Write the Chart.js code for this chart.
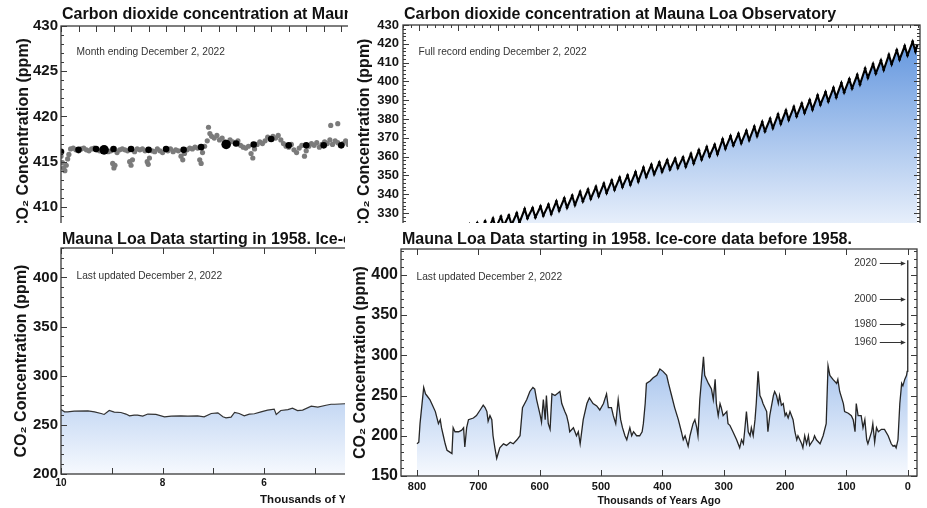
<!DOCTYPE html>
<html><head><meta charset="utf-8">
<script src="https://cdn.jsdelivr.net/npm/chart.js@4.4.1/dist/chart.umd.min.js"></script>
<style>
html,body{margin:0;padding:0;background:#fff;width:927px;height:508px;overflow:hidden;}
.panel{position:absolute;overflow:hidden;background:#fff;}
canvas{display:block;}
</style></head><body>
<div class="panel" style="left:0;top:0;width:348px;height:223px"><canvas id="cTL" width="615" height="275" style="width:615px;height:275px"></canvas></div>
<div class="panel" style="left:348px;top:0;width:579px;height:223px"><canvas id="cTR" width="579" height="277" style="width:579px;height:277px"></canvas></div>
<div class="panel" style="left:0;top:225px;width:345px;height:283px"><canvas id="cBL" width="600" height="283" style="width:600px;height:283px"></canvas></div>
<div class="panel" style="left:345px;top:225px;width:582px;height:283px"><canvas id="cBR" width="582" height="283" style="width:582px;height:283px"></canvas></div>
<script>
// ---------------- DATA ----------------
// Top-left: one month of Mauna Loa readings (day index, ppm)
const dailyDay = [0,1,2,3,4,5,6,7,8,10,11,12,13,14,15,16];
const dailyPpm = [416.1,416.3,416.4,416.4,416.4,416.3,416.4,416.3,416.6,417.0,416.9,417.5,416.8,416.8,416.8,416.8];
const bigDay = [2.46,9.43];
const bigPpm = [416.3,416.9];
const grayDay = [0.00,0.08,0.15,0.22,0.30,0.38,0.45,0.55,0.70,0.85,
 1.00,1.15,1.30,1.45,1.60,1.75,1.90,2.05,2.20,2.35,
 2.55,2.70,2.85,2.95,3.02,3.08,3.20,3.35,3.50,3.65,
 3.80,3.92,4.00,4.08,4.20,4.35,4.50,4.65,4.80,4.92,
 4.98,5.05,5.20,5.35,5.50,5.65,5.80,5.95,6.10,6.25,
 6.40,6.55,6.70,6.85,6.95,7.05,7.20,7.35,7.50,7.65,
 7.80,7.92,8.00,8.08,8.20,8.35,8.42,8.50,8.60,8.75,
 8.90,9.05,9.20,9.35,9.50,9.65,9.80,9.95,10.10,10.25,
 10.40,10.55,10.70,10.85,10.95,11.05,11.20,11.35,11.50,11.65,
 11.80,11.95,12.10,12.25,12.40,12.55,12.70,12.85,13.00,13.15,
 13.30,13.45,13.60,13.75,13.90,14.00,14.15,14.30,14.45,14.60,
 14.75,14.90,15.05,15.20,15.35,15.50,15.65,15.80,15.95,16.10,
 16.25,16.40,15.40,15.80];
const grayPpm = [415.6,414.9,414.3,414.0,414.6,415.3,415.8,416.4,416.5,416.3,
 416.2,416.4,416.5,416.3,416.2,416.4,416.5,416.3,416.2,416.4,
 416.3,416.1,416.2,414.8,414.3,414.6,416.0,416.3,416.4,416.3,
 416.2,415.0,414.6,415.2,416.1,416.4,416.3,416.4,416.2,415.0,
 414.7,415.4,416.2,416.1,416.4,416.2,416.0,416.3,416.2,416.4,
 416.1,416.3,416.2,415.6,415.2,415.9,416.3,416.5,416.4,416.6,
 416.5,415.2,414.8,416.0,416.7,417.3,418.8,418.1,417.8,417.6,
 417.9,417.4,417.6,417.2,417.1,417.4,417.2,417.0,417.3,416.8,
 416.6,416.5,416.7,415.9,415.4,416.4,416.9,417.2,417.0,417.3,
 417.7,417.5,417.8,417.6,417.9,417.4,417.0,416.7,416.6,416.9,
 416.3,416.0,416.5,416.8,415.6,416.2,416.7,417.0,416.8,417.1,
 416.6,416.9,417.2,417.0,417.4,416.9,417.3,417.1,416.8,417.0,
 417.3,416.9,419.0,419.2];

// Top-right: full Mauna Loa record, yearly seasonal high (May) and low (Sep)
const keelingYears = [1958,1959,1960,1961,1962,1963,1964,1965,1966,1967,
 1968,1969,1970,1971,1972,1973,1974,1975,1976,1977,
 1978,1979,1980,1981,1982,1983,1984,1985,1986,1987,
 1988,1989,1990,1991,1992,1993,1994,1995,1996,1997,
 1998,1999,2000,2001,2002,2003,2004,2005,2006,2007,
 2008,2009,2010,2011,2012,2013,2014,2015,2016,2017,
 2018,2019,2020,2021,2022];
const keelingMay = [316.9,318.4,319.3,320.0,320.9,321.4,322.0,322.4,323.8,324.6,
 325.5,327.0,328.1,328.7,329.9,332.1,332.6,333.5,334.4,336.2,
 337.8,339.2,341.2,342.5,343.9,345.6,347.3,348.8,350.0,351.7,
 354.1,355.6,356.9,358.1,358.9,359.6,361.4,363.4,365.1,366.3,
 369.2,370.9,372.1,373.7,375.9,378.4,380.1,382.4,384.5,386.4,
 388.2,390.0,392.5,394.3,396.5,399.1,401.2,403.4,406.8,409.2,
 411.1,414.1,416.6,418.8,421.1];
const keelingSep = [314.0,313.5,314.4,315.1,316.0,316.5,317.1,317.5,318.9,319.7,
 320.6,322.1,323.2,323.8,325.0,327.2,327.7,328.6,329.5,331.3,
 332.9,334.3,336.3,337.6,339.0,340.7,342.4,343.9,345.1,346.8,
 349.2,350.7,352.0,353.2,354.0,354.7,356.5,358.5,360.2,361.4,
 364.3,366.0,367.2,368.8,371.0,373.5,375.2,377.5,379.6,381.5,
 383.3,385.1,387.6,389.4,391.6,394.2,396.3,398.5,401.9,404.3,
 406.2,409.2,411.7,413.9,416.0];
const keelingLastTime = 2022.92, keelingLastPpm = 418.9;

// Bottom-left: last 10,000 years (thousands of years ago, ppm)
const holoKyr = [10,9.93,9.87,9.74,9.47,9.34,9.21,9.15,9.05,8.95,
 8.82,8.72,8.65,8.56,8.49,8.39,8.29,8.13,7.96,7.83,
 7.64,7.5,7.31,7.18,7.04,6.91,6.81,6.75,6.65,6.58,
 6.49,6.39,6.29,6.19,6.06,5.93,5.8,5.76,5.67,5.53,
 5.44,5.34,5.24,5.07,4.94,4.78,4.68,4.61,4.2,3.5,
 3,2,1,0.5,0.2,0.1,0.06,0.04,0.02,0];
const holoPpm = [265.6,263.3,263.3,264,264.3,263.3,261.6,260.6,264.6,263,
 262.6,261,259.2,260,260,258.9,261,260.6,258.2,258.9,
 259.2,258.9,259.2,258.2,261.6,262.3,258.2,257.2,257.9,262.6,
 261.6,259.2,261,261.3,263.3,265,266,260.6,264.6,265.6,
 267,264.6,265,269,268,270,271,271,272,274,
 275,277,279,280,281,288,316,339,370,414];

// Bottom-right: 800,000 years of ice-core + Mauna Loa data
const iceKyr = [800,797,795,789,786,784,779,776,770,765,
 762,760,757,754,751,747,743,741,738,732,
 727,724,722,719,716,708,703,697,692,689,
 686,684,681,678,676,673,670,665,659,654,
 648,643,637,632,628,621,616,611,608,605,
 602,599,597,594,591,589,586,583,580,575,
 570,567,564,559,556,553,551,545,540,537,
 534,529,523,519,513,507,502,496,491,488,
 483,480,476,472,468,465,461,458,453,450,
 447,442,437,433,431,428,426,420,415,409,
 404,399,393,390,385,380,374,369,366,363,
 358,355,350,347,344,342,339,333,331,325,
 320,317,314,312,309,306,304,301,295,293,
 290,285,279,274,271,268,266,263,260,257,
 255,252,249,247,244,241,238,236,230,228,
 225,219,217,214,211,209,206,203,200,198,
 195,192,187,184,181,179,173,171,168,165,
 162,160,154,152,149,143,138,133,130,127,
 122,116,114,111,105,103,97,92,89,86,
 84,81,76,73,70,67,65,59,57,54,
 51,48,43,38,32,27,24,21,19,16,
 13,10,8,5,2,1,0.3,0.1,0.06,0.04,
 0.02,0.003,0];
const icePpm = [190,192,215,260,252,250,245,240,230,215,
 220,210,200,190,182,180,178,210,205,205,
 207,210,186,210,220,222,225,232,238,235,
 230,218,225,220,200,185,172,185,190,188,
 192,190,195,200,235,245,255,260,258,245,
 235,225,217,245,220,250,215,208,252,250,
 253,255,240,230,225,215,205,210,200,205,
 190,220,240,247,240,237,232,240,252,235,
 235,225,215,245,220,210,200,195,210,200,
 205,200,200,205,215,240,265,268,272,275,
 283,280,275,265,250,235,220,205,195,200,
 187,200,215,220,210,200,245,298,275,265,
 258,245,270,240,225,240,235,225,230,215,
 213,205,195,185,195,190,205,230,205,200,
 210,200,220,240,280,250,245,240,230,205,
 225,250,255,250,240,250,238,240,225,228,
 222,230,220,205,195,200,190,185,200,190,
 200,188,195,200,195,190,200,215,287,275,
 270,265,270,255,240,230,228,225,220,205,
 240,225,225,210,220,195,190,205,215,192,
 210,205,208,208,200,190,187,188,185,195,
 240,265,262,270,275,280,280,290,316,339,
 370,414,418];
const arrowLabels = ['2020','2000','1980','1960'];
const arrowPpm = [414.2,369.7,338.8,316.9];

// tick labels
const tlYTicks = [410,415,420,425,430];
const trYTicks = [330,340,350,360,370,380,390,400,410,420,430];
const blYTicks = [200,250,300,350,400];
const blXTicks = [10,8,6,4,2,0];
const brYTicks = [150,200,250,300,350,400];
const brXTicks = [800,700,600,500,400,300,200,100,0];

const titleTop = 'Carbon dioxide concentration at Mauna Loa Observatory';
const titleBottom = 'Mauna Loa Data starting in 1958. Ice-core data before 1958.';
const yTitle = 'CO\u2082 Concentration (ppm)';
const xTitle = 'Thousands of Years Ago';

// ---------------- HELPERS ----------------
const FONT = '"Liberation Sans", Arial, Helvetica, sans-serif';
Chart.defaults.font.family = FONT;

function pts(xs, ys) { return xs.map((x, i) => ({x: x, y: ys[i]})); }
const keelingPts = [];
keelingYears.forEach((yr, i) => {
  keelingPts.push({x: yr + 0.37, y: keelingMay[i]});
  keelingPts.push({x: yr + 0.72, y: keelingSep[i]});
});
keelingPts.push({x: keelingLastTime, y: keelingLastPpm});

function blueGrad(c) {
  const ch = c.chart, a = ch.chartArea;
  if (!a) return 'rgba(160,195,235,1)';
  const g = ch.ctx.createLinearGradient(0, a.top, 0, a.bottom);
  g.addColorStop(0, 'rgb(88,143,220)');
  g.addColorStop(1, 'rgb(246,249,254)');
  return g;
}

function yScale(o) {
  return {
    type: 'linear', min: o.min, max: o.max,
    grid: {display: false, drawTicks: false}, border: {display: false},
    afterBuildTicks: s => { s.ticks = o.ticks.map(v => ({value: v})); },
    afterFit: s => { s.width = o.width; },
    ticks: {font: {size: o.size, weight: 'bold'}, color: '#151515', padding: o.pad, callback: v => String(v)},
    title: {display: true, text: yTitle, color: '#151515', font: {size: 16, weight: 'bold', lineHeight: 1.2}, padding: {top: o.tpad, bottom: 0}}
  };
}
function xScale(o) {
  const s = {
    type: 'linear', min: o.min, max: o.max, reverse: !!o.reverse,
    grid: {display: false, drawTicks: false}, border: {display: false},
    afterFit: sc => { sc.height = o.height; },
    ticks: {display: !!o.ticks, autoSkip: false, maxRotation: 0, font: {size: o.size || 10, weight: 'bold'}, color: '#151515', padding: o.pad || 0, callback: v => String(v)},
    title: {display: !!o.title, text: o.title || '', color: '#151515', font: {size: o.tsize || 10.5, weight: 'bold', lineHeight: 1.2}, padding: {top: 0, bottom: o.tpad || 0}}
  };
  if (o.ticks) s.afterBuildTicks = sc => { sc.ticks = o.ticks.map(v => ({value: v})); };
  return s;
}

function makeDecor(cfg) {
  return {
    id: 'decor',
    afterDatasetsDraw(chart) {
      const {ctx, chartArea: a, scales} = chart;
      const sx = scales.x, sy = scales.y;
      ctx.save();
      ctx.strokeStyle = '#3a3a3a';
      ctx.lineWidth = 1;
      const marks = (s, step, len, horiz) => {
        if (!step) return;
        const lo = Math.min(s.min, s.max), hi = Math.max(s.min, s.max);
        const i0 = Math.ceil(lo / step - 1e-6), i1 = Math.floor(hi / step + 1e-6);
        ctx.beginPath();
        for (let i = i0; i <= i1; i++) {
          const p = Math.round(s.getPixelForValue(i * step)) + 0.5;
          if (horiz) { ctx.moveTo(p, a.top); ctx.lineTo(p, a.top + len); ctx.moveTo(p, a.bottom); ctx.lineTo(p, a.bottom - len); }
          else { ctx.moveTo(a.left, p); ctx.lineTo(a.left + len, p); ctx.moveTo(a.right, p); ctx.lineTo(a.right - len, p); }
        }
        ctx.stroke();
      };
      marks(sx, cfg.xMinor, 3, true); marks(sx, cfg.xMajor, 6, true);
      marks(sy, cfg.yMinor, 3, false); marks(sy, cfg.yMajor, 6, false);
      ctx.lineWidth = 1.3;
      ctx.strokeRect(a.left, a.top, a.right - a.left, a.bottom - a.top);
      // title
      ctx.fillStyle = '#111';
      ctx.textAlign = 'left'; ctx.textBaseline = 'middle';
      ctx.font = 'bold 16px ' + FONT;
      ctx.fillText(cfg.title, a.left + 1, 15);
      // note
      ctx.font = '10.2px ' + FONT;
      ctx.fillStyle = '#333';
      ctx.fillText(cfg.note, a.left + 15.5, cfg.noteY);
      if (cfg.arrows) {
        const x0 = sx.getPixelForValue(0);
        ctx.strokeStyle = '#333'; ctx.fillStyle = '#333'; ctx.lineWidth = 1;
        ctx.textAlign = 'right';
        arrowLabels.forEach((lab, i) => {
          const py = Math.round(sy.getPixelForValue(arrowPpm[i])) + 0.5;
          const xe = x0 - 2, xs = xe - 26;
          ctx.beginPath(); ctx.moveTo(xs, py); ctx.lineTo(xe - 4, py); ctx.stroke();
          ctx.beginPath(); ctx.moveTo(xe, py); ctx.lineTo(xe - 5, py - 2.3); ctx.lineTo(xe - 5, py + 2.3); ctx.closePath(); ctx.fill();
          ctx.fillText(lab, xs - 3, py);
        });
      }
      ctx.restore();
    }
  };
}

const common = {responsive: false, animation: false, devicePixelRatio: 1,
  plugins: {legend: {display: false}, tooltip: {enabled: false}}};

// ---------------- TOP LEFT ----------------
new Chart(document.getElementById('cTL'), {
  type: 'scatter',
  data: {datasets: [
    {data: pts(dailyDay, dailyPpm), pointRadius: 3.3, backgroundColor: '#000', borderColor: '#000', pointBorderWidth: 0, showLine: false},
    {data: pts(bigDay, bigPpm), pointRadius: 4.8, backgroundColor: '#000', borderColor: '#000', pointBorderWidth: 0, showLine: false},
    {data: pts(grayDay, grayPpm), pointRadius: 2.6, backgroundColor: '#7b7b7b', borderColor: '#7b7b7b', pointBorderWidth: 0, showLine: false}
  ]},
  options: Object.assign({}, common, {
    layout: {padding: {top: 26, right: 11, left: 0, bottom: 0}},
    scales: {
      x: xScale({min: 0, max: 31, height: 32}),
      y: yScale({min: 406, max: 430, ticks: tlYTicks, size: 15, pad: 3, width: 61, tpad: 13.9})
    }
  }),
  plugins: [makeDecor({title: titleTop, note: 'Month ending December 2, 2022', noteY: 52, xMajor: 1, yMajor: 5, yMinor: 1})]
});

// ---------------- TOP RIGHT ----------------
new Chart(document.getElementById('cTR'), {
  type: 'line',
  data: {datasets: [{data: keelingPts, borderColor: '#000', borderWidth: 2.1, pointRadius: 1.4,
    pointBackgroundColor: '#000', pointBorderWidth: 0, fill: 'start', backgroundColor: blueGrad, tension: 0}]},
  options: Object.assign({}, common, {
    layout: {padding: {top: 25, right: 7, left: 0, bottom: 0}},
    scales: {
      x: xScale({min: 1958, max: 2023.3, height: 32}),
      y: yScale({min: 313, max: 430, ticks: trYTicks, size: 13, pad: 4, width: 55, tpad: 6.9})
    }
  }),
  plugins: [makeDecor({title: titleTop, note: 'Full record ending December 2, 2022', noteY: 52, xMajor: 5, xMinor: 1, yMajor: 10, yMinor: 2})]
});

// ---------------- BOTTOM LEFT ----------------
new Chart(document.getElementById('cBL'), {
  type: 'line',
  data: {datasets: [{data: pts(holoKyr, holoPpm), borderColor: '#333', borderWidth: 1.2, pointRadius: 0,
    fill: 'start', backgroundColor: blueGrad, tension: 0}]},
  options: Object.assign({}, common, {
    layout: {padding: {top: 23, right: 6, left: 0, bottom: 0}},
    scales: {
      x: xScale({min: -0.5, max: 10, reverse: true, height: 34, ticks: blXTicks, size: 10, pad: 3.2, title: xTitle, tsize: 11.5, tpad: 1.5}),
      y: yScale({min: 200, max: 430, ticks: blYTicks, size: 15, pad: 3, width: 61, tpad: 12.4})
    }
  }),
  plugins: [makeDecor({title: titleBottom, note: 'Last updated December 2, 2022', noteY: 51, xMajor: 1, yMajor: 50, yMinor: 10})]
});

// ---------------- BOTTOM RIGHT ----------------
new Chart(document.getElementById('cBR'), {
  type: 'line',
  data: {datasets: [{data: pts(iceKyr, icePpm), borderColor: '#262626', borderWidth: 1.3, pointRadius: 0,
    fill: 'start', backgroundColor: blueGrad, tension: 0}]},
  options: Object.assign({}, common, {
    layout: {padding: {top: 24, right: 10, left: 0, bottom: 0}},
    scales: {
      x: xScale({min: -15, max: 826, reverse: true, height: 32, ticks: brXTicks, size: 11, pad: 4.4, title: xTitle, tpad: 0.7}),
      y: yScale({min: 150, max: 432, ticks: brYTicks, size: 16, pad: 3, width: 56, tpad: 6.4})
    }
  }),
  plugins: [makeDecor({title: titleBottom, note: 'Last updated December 2, 2022', noteY: 52, xMajor: 100, yMajor: 50, yMinor: 10, arrows: true})]
});
</script>
</body></html>
